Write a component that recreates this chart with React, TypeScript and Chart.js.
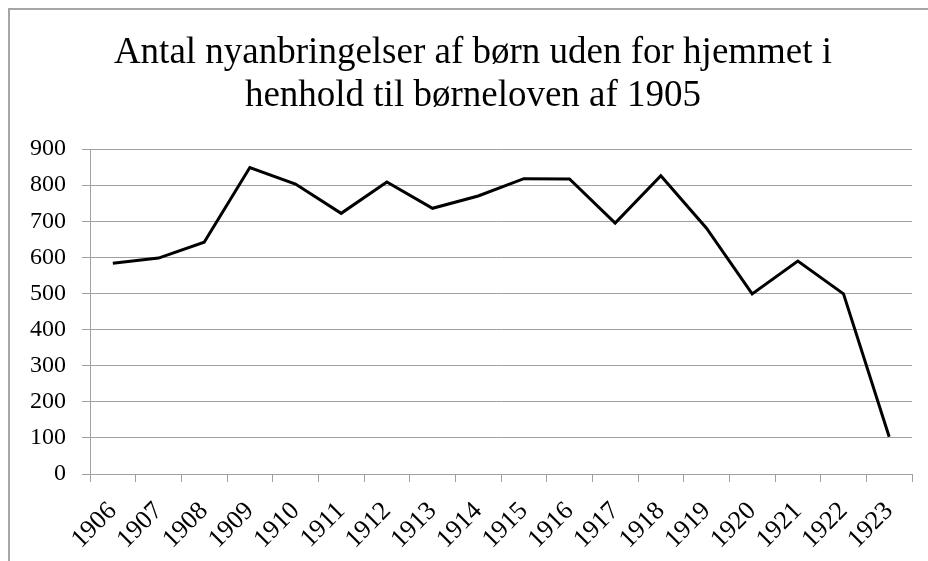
import React, { useEffect, useRef } from "react";
import { Chart, registerables } from "chart.js";

Chart.register(...registerables);

const years = ["1906", "1907", "1908", "1909", "1910", "1911", "1912", "1913", "1914", "1915", "1916", "1917", "1918", "1919", "1920", "1921", "1922", "1923"];
const placements = [584, 598, 642, 849, 803, 722, 809, 736, 770, 818, 817, 695, 826, 681, 499, 590, 499, 103];
const titleLines = ["Antal nyanbringelser af børn uden for hjemmet i", "henhold til børneloven af 1905"];
const yMin = 0;
const yMax = 900;
const yStep = 100;

const FONT = "'Liberation Serif', 'Times New Roman', serif";
const GRID = "#a0a0a0";

const titleShift = {
  id: "titleShift",
  afterLayout(chart: any) {
    const t = chart.titleBlock;
    if (t) {
      t.left += 24;
    }
  },
};

export default function App() {
  const ref = useRef<HTMLCanvasElement | null>(null);

  useEffect(() => {
    if (!ref.current) return;
    const chart = new Chart(ref.current, {
      type: "line",
      data: {
        labels: years,
        datasets: [
          {
            data: placements,
            borderColor: "#000000",
            borderWidth: 3,
            pointRadius: 0,
            tension: 0,
            fill: false,
          },
        ],
      },
      options: {
        responsive: false,
        animation: false,
        devicePixelRatio: 1,
        layout: { padding: { left: 0, right: 16, top: 0, bottom: 0 } },
        plugins: {
          legend: { display: false },
          tooltip: { enabled: false },
          title: {
            display: true,
            text: titleLines,
            color: "#000000",
            font: { family: FONT, size: 37, weight: "normal", lineHeight: 1.17 },
            padding: { top: 21.5, bottom: 31 },
          },
        },
        scales: {
          x: {
            type: "category",
            offset: true,
            grid: {
              offset: true,
              drawOnChartArea: false,
              drawTicks: true,
              tickLength: 8,
              color: GRID,
              lineWidth: 1,
            },
            border: { color: GRID, width: 1 },
            ticks: {
              color: "#000000",
              font: { family: FONT, size: 26 },
              minRotation: 45,
              maxRotation: 45,
              autoSkip: false,
              padding: 14,
            },
            afterFit: (scale: any) => {
              scale.height = 87;
            },
          },
          y: {
            min: yMin,
            max: yMax,
            grid: {
              color: GRID,
              lineWidth: 1,
              drawTicks: true,
              tickLength: 8,
            },
            border: { color: GRID, width: 1 },
            ticks: {
              stepSize: yStep,
              color: "#000000",
              font: { family: FONT, size: 24 },
              padding: 16,
            },
            afterFit: (scale: any) => {
              scale.width = 80;
            },
          },
        },
      },
      plugins: [titleShift],
    });
    return () => chart.destroy();
  }, []);

  return (
    <div
      style={{
        position: "fixed",
        left: 8,
        top: 8,
        width: 918,
        height: 551,
        borderTop: "2px solid #a6a6a6",
        borderLeft: "2px solid #a6a6a6",
        background: "#ffffff",
      }}
    >
      <canvas ref={ref} width={918} height={551} style={{ display: "block", width: 918, height: 551 }} />
    </div>
  );
}
